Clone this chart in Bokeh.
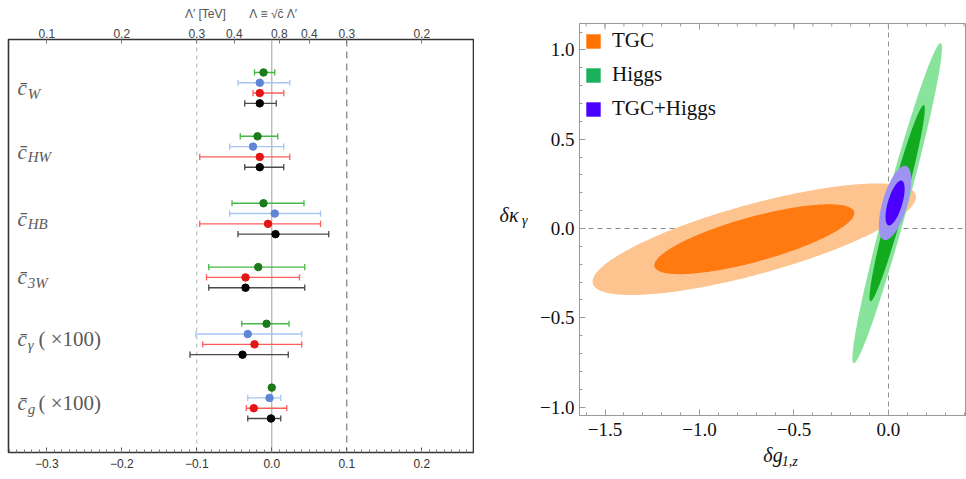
import numpy as np
from bokeh.plotting import figure
from bokeh.models import (Range1d, LinearAxis, FixedTicker, Span,
                          Legend, LegendItem)
from bokeh.layouts import row, column
from bokeh.core.properties import value
from bokeh.embed import file_html
from bokeh.resources import INLINE

nan = float("nan")

# ---------------- left panel data ----------------
coeff_subs = ["W", "HW", "HB", "3W", "γ", "g"]
coeff_suffix = ["", "", "", "", "( ×100)", "( ×100)"]
group_rows = [3.2, 9.4, 15.9, 22.1, 27.6, 33.8]

green_c = [-0.011, -0.019, -0.011, -0.018, -0.007, 0.000]
green_lo = [-0.023, -0.042, -0.053, -0.084, -0.040, nan]
green_hi = [0.004, 0.008, 0.043, 0.044, 0.023, nan]

blue_c = [-0.016, -0.025, 0.004, nan, -0.032, -0.003]
blue_lo = [-0.045, -0.056, -0.056, nan, -0.101, -0.032]
blue_hi = [0.024, 0.016, 0.065, nan, 0.040, 0.012]

red_c = [-0.016, -0.016, -0.005, -0.035, -0.023, -0.024]
red_lo = [-0.025, -0.096, -0.096, -0.087, -0.092, -0.034]
red_hi = [0.016, 0.024, 0.065, 0.037, 0.040, 0.020]

black_c = [-0.016, -0.016, 0.005, -0.035, -0.039, -0.001]
black_lo = [-0.036, -0.036, -0.045, -0.084, -0.109, -0.032]
black_hi = [0.006, 0.016, 0.076, 0.044, 0.022, 0.012]

top_tick_pos = [-0.3, -0.2, -0.1, -0.05, 0.01, 0.05, 0.1, 0.2]
top_tick_labels = ["0.1", "0.2", "0.3", "0.4", "0.8", "0.4", "0.3", "0.2"]
bottom_tick_pos = [-0.3, -0.2, -0.1, 0.0, 0.1, 0.2]
bottom_tick_labels = ["\u22120.3", "\u22120.2", "\u22120.1", "0.0", "0.1", "0.2"]

# ---------------- right panel data ----------------
region_names = ["TGC", "Higgs", "TGC+Higgs"]
region_cx = [-0.71, 0.046, 0.035]
region_cy = [-0.06, 0.142, 0.143]
region_angle_deg = [16.3, 75.6, 74.5]
region_a_outer = [0.89, 0.925, 0.215]
region_b_outer = [0.195, 0.058, 0.066]
region_a_inner = [0.55, 0.567, 0.13]
region_b_inner = [0.125, 0.040, 0.038]

r_xticks = [-1.5, -1.0, -0.5, 0.0]
r_xlabels = ["\u22121.5", "\u22121.0", "\u22120.5", "0.0"]
r_yticks = [-1.0, -0.5, 0.0, 0.5, 1.0]
r_ylabels = ["\u22121.0", "\u22120.5", "0.0", "0.5", "1.0"]

# ================= LEFT FIGURE =================
p1 = figure(frame_width=465, frame_height=413,
            x_range=Range1d(-0.351, 0.269), y_range=Range1d(40.1, 0),
            min_border_left=8, min_border_right=1, min_border_top=39, min_border_bottom=19,
            output_backend="svg", toolbar_location=None)
p1.grid.visible = False
p1.yaxis.visible = False
p1.outline_line_color = "#333333"
p1.outline_line_width = 1.6
p1.outline_line_alpha = 1.0

bax = p1.xaxis[0]
bax.ticker = FixedTicker(ticks=bottom_tick_pos,
                         minor_ticks=list(np.round(np.arange(-0.35, 0.27, 0.01), 2)))
bax.major_label_overrides = dict(zip(bottom_tick_pos, bottom_tick_labels))
bax.axis_line_color = None
bax.major_tick_in = 5
bax.major_tick_out = 0
bax.minor_tick_in = 3
bax.minor_tick_out = 0
bax.major_tick_line_color = "#555555"
bax.minor_tick_line_color = "#777777"
bax.major_label_standoff = 6
bax.major_label_text_font = "Liberation Sans"
bax.major_label_text_font_size = "12px"
bax.major_label_text_color = "#333333"

nb = "\u00a0" * 7
tax = LinearAxis(ticker=FixedTicker(ticks=top_tick_pos, minor_ticks=[]),
                 major_label_overrides=dict(zip(top_tick_pos, top_tick_labels)),
                 axis_label="\u039b\u2032 [TeV]" + nb + "\u039b\u00a0\u2261\u00a0\u221ac\u0304\u00a0\u039b\u2032")
tax.axis_line_color = None
tax.major_tick_in = 4
tax.major_tick_out = 0
tax.major_tick_line_color = "#777777"
tax.major_label_standoff = 2
tax.major_label_text_font = "Liberation Sans"
tax.major_label_text_font_size = "12px"
tax.major_label_text_color = "#444444"
tax.axis_label_standoff = 5
tax.axis_label_text_font = "Liberation Sans"
tax.axis_label_text_font_style = "normal"
tax.axis_label_text_font_size = "12px"
tax.axis_label_text_color = "#555555"
p1.add_layout(tax, "above")

p1.add_layout(Span(location=-0.1, dimension="height", line_color="#c0c0c0",
                   line_dash="4 4", line_width=1.2, level="underlay"))
p1.add_layout(Span(location=0.1, dimension="height", line_color="#888888",
                   line_dash="7 5", line_width=1.3, level="underlay"))
p1.add_layout(Span(location=0.0, dimension="height", line_color="#b0b0b0",
                   line_width=1.2, level="underlay"))

series = [
    (green_c, green_lo, green_hi, "#1d7a1d", "#45b845"),
    (blue_c, blue_lo, blue_hi, "#5f86d6", "#a9c5f2"),
    (red_c, red_lo, red_hi, "#e51515", "#ff5c5c"),
    (black_c, black_lo, black_hi, "#000000", "#4a4a4a"),
]

counts = [0] * len(coeff_subs)
for cvals, lovals, hivals, dot_col, bar_col in series:
    xs, ys, los, his = [], [], [], []
    for g in range(len(coeff_subs)):
        if np.isnan(cvals[g]):
            continue
        yrow = group_rows[g] + counts[g]
        counts[g] += 1
        xs.append(cvals[g])
        ys.append(yrow)
        los.append(lovals[g])
        his.append(hivals[g])
    xs = np.array(xs); ys = np.array(ys); los = np.array(los); his = np.array(his)
    ok = ~np.isnan(los)
    p1.segment(x0=los[ok], y0=ys[ok], x1=his[ok], y1=ys[ok], line_color=bar_col, line_width=1.4)
    p1.segment(x0=los[ok], y0=ys[ok] - 0.3, x1=los[ok], y1=ys[ok] + 0.3, line_color=bar_col, line_width=1.3)
    p1.segment(x0=his[ok], y0=ys[ok] - 0.3, x1=his[ok], y1=ys[ok] + 0.3, line_color=bar_col, line_width=1.3)
    p1.scatter(x=xs, y=ys, size=7.5, fill_color=dot_col, line_color=dot_col)

label_y = [group_rows[g] + (counts[g] - 1) / 2 for g in range(len(coeff_subs))]
n = len(coeff_subs)
p1.text(x=[-0.339] * n, y=label_y, text=["c\u0304"] * n,
        text_font=value("Liberation Serif"), text_font_style="italic",
        text_font_size="21px", text_color="#5a5a5a", text_baseline="middle")
p1.text(x=[-0.3255] * n, y=[v + 0.55 for v in label_y], text=coeff_subs,
        text_font=value("Liberation Serif"), text_font_style="italic",
        text_font_size="15px", text_color="#5a5a5a", text_baseline="middle")
suf_idx = [i for i in range(n) if coeff_suffix[i]]
p1.text(x=[-0.311] * len(suf_idx), y=[label_y[i] for i in suf_idx],
        text=[coeff_suffix[i] for i in suf_idx],
        text_font=value("Liberation Serif"), text_font_size="21px",
        text_color="#5a5a5a", text_baseline="middle")

# ================= RIGHT FIGURE =================
p2 = figure(frame_width=387, frame_height=392,
            x_range=Range1d(-1.635, 0.413), y_range=Range1d(-1.047, 1.148),
            min_border_left=105, min_border_right=0, min_border_top=23, min_border_bottom=56,
            output_backend="svg", toolbar_location=None)
p2.grid.visible = False
p2.outline_line_color = "#9a9a9a"
p2.outline_line_width = 1

x_minor = list(np.round(np.arange(-1.6, 0.45, 0.1), 2))
y_minor = list(np.round(np.arange(-1.0, 1.15, 0.1), 2))
for ax, ticks, labs, minor in [
    (p2.xaxis[0], r_xticks, r_xlabels, x_minor),
    (p2.yaxis[0], r_yticks, r_ylabels, y_minor),
]:
    ax.ticker = FixedTicker(ticks=ticks, minor_ticks=minor)
    ax.major_label_overrides = dict(zip(ticks, labs))
    ax.axis_line_color = "#9a9a9a"
    ax.major_tick_in = 6
    ax.major_tick_out = 0
    ax.minor_tick_in = 3
    ax.minor_tick_out = 0
    ax.major_tick_line_color = "#9a9a9a"
    ax.minor_tick_line_color = "#9a9a9a"
    ax.major_label_text_font = "Liberation Serif"
    ax.major_label_text_font_size = "19px"
    ax.major_label_text_color = "#111111"
p2.xaxis[0].major_label_standoff = 7
p2.yaxis[0].major_label_standoff = 5

# x-axis title: "δg" as the axis label, subscript "1,z" on an extra unlined axis
xa = p2.xaxis[0]
xa.axis_label = "\u03b4g"
xa.axis_label_standoff = 5
xa.axis_label_text_font = "Liberation Serif"
xa.axis_label_text_font_style = "italic"
xa.axis_label_text_font_size = "20px"
xa.axis_label_text_color = "#111111"


def label_axis(tick, text, size, standoff):
    ax = LinearAxis(ticker=FixedTicker(ticks=[tick], minor_ticks=[]),
                    major_label_overrides={tick: text})
    ax.axis_line_color = None
    ax.major_tick_line_color = None
    ax.major_tick_in = 0
    ax.major_tick_out = 0
    ax.minor_tick_line_color = None
    ax.major_label_standoff = standoff
    ax.major_label_text_font = "Liberation Serif"
    ax.major_label_text_font_style = "italic"
    ax.major_label_text_font_size = size
    ax.major_label_text_color = "#111111"
    return ax


p2.add_layout(label_axis(-0.522, "1,z", "14px", -15), "below")
# y-axis title: subscript axis nearer the frame, "δκ" axis further out
p2.add_layout(label_axis(0.045, "\u03b3", "14px", 10), "left")
p2.add_layout(label_axis(0.073, "\u03b4\u03ba", "20px", 0), "left")

# tick marks along the top edge (mirror of bottom axis ticks)
y_top = p2.y_range.end
px_y = (p2.y_range.end - p2.y_range.start) / 392.0
p2.segment(x0=x_minor, y0=[y_top] * len(x_minor), x1=x_minor,
           y1=[y_top - 3 * px_y] * len(x_minor), line_color="#9a9a9a", line_width=1)
p2.segment(x0=r_xticks, y0=[y_top] * len(r_xticks), x1=r_xticks,
           y1=[y_top - 6 * px_y] * len(r_xticks), line_color="#9a9a9a", line_width=1)

p2.add_layout(Span(location=0.0, dimension="height", line_color="#8a8a8a",
                   line_dash="5 4", line_width=1, level="underlay"))
p2.add_layout(Span(location=0.0, dimension="width", line_color="#8a8a8a",
                   line_dash="5 4", line_width=1, level="underlay"))

outer_colors = ["#fdc48f", "#88e39b", "#9d93f0"]
inner_colors = ["#ff7a10", "#12aa1e", "#4b00ff"]
legend_colors = ["#ff7300", "#1ab05c", "#4a00ff"]

t = np.linspace(0, 2 * np.pi, 240)


def ellipse_pts(cx, cy, a, b, ang_deg):
    th = np.deg2rad(ang_deg)
    xs = cx + a * np.cos(t) * np.cos(th) - b * np.sin(t) * np.sin(th)
    ys = cy + a * np.cos(t) * np.sin(th) + b * np.sin(t) * np.cos(th)
    return xs, ys


for i in range(len(region_names)):
    xo, yo = ellipse_pts(region_cx[i], region_cy[i], region_a_outer[i], region_b_outer[i], region_angle_deg[i])
    p2.patch(xo, yo, fill_color=outer_colors[i], line_color=None)
    xi, yi = ellipse_pts(region_cx[i], region_cy[i], region_a_inner[i], region_b_inner[i], region_angle_deg[i])
    p2.patch(xi, yi, fill_color=inner_colors[i], line_color=None)

items = []
for i, name in enumerate(region_names):
    r = p2.rect(x=[nan], y=[nan], width=[0.0], height=[0.0],
                fill_color=legend_colors[i], line_color=None)
    items.append(LegendItem(label=name, renderers=[r]))
leg = Legend(items=items, location="top_left")
leg.border_line_color = None
leg.background_fill_alpha = 0
leg.margin = 5
leg.padding = 7
leg.glyph_width = 18
leg.glyph_height = 18
leg.label_height = 18
leg.spacing = 9
leg.label_standoff = 10
leg.label_text_font = "Liberation Serif"
leg.label_text_font_size = "21px"
leg.label_text_color = "#111111"
p2.add_layout(leg)

layout = row(p1, column(p2))
open("out.html", "w").write(file_html(layout, INLINE))
